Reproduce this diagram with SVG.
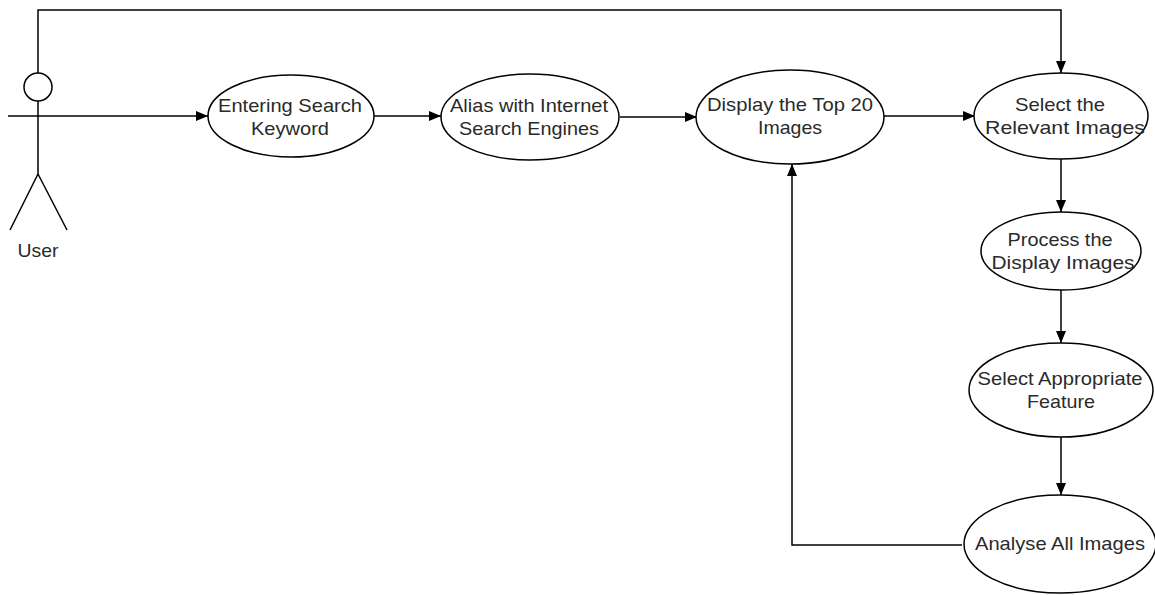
<svg xmlns="http://www.w3.org/2000/svg" width="1155" height="595" viewBox="0 0 1155 595">
<defs>
<marker id="ah" markerWidth="12" markerHeight="10" refX="12" refY="5" orient="auto" markerUnits="userSpaceOnUse">
<path d="M0,0 L12,5 L0,10 Z" fill="#000"/>
</marker>
<style>
.n ellipse{fill:#fff;stroke:#000;stroke-width:1.5}
text{font-family:"Liberation Sans",Arial,sans-serif;font-size:19px;fill:#2a2a2a;text-anchor:middle}
.c path{fill:none;stroke:#000;stroke-width:1.5}
</style>
</defs>
<rect width="1155" height="595" fill="#fff"/>
<g class="c" id="connectors">
<path d="M38,73 V10 H1061 V73" marker-end="url(#ah)"/>
<path d="M8,116 H208" marker-end="url(#ah)"/>
<path d="M374,116 H441" marker-end="url(#ah)"/>
<path d="M620,117 H697" marker-end="url(#ah)"/>
<path d="M884,116 H975" marker-end="url(#ah)"/>
<path d="M1061,159 V212" marker-end="url(#ah)"/>
<path d="M1061,290 V343" marker-end="url(#ah)"/>
<path d="M1061,437 V495" marker-end="url(#ah)"/>
<path d="M962,545 H792 V164" marker-end="url(#ah)"/>
</g>
<g id="user" fill="none" stroke="#000" stroke-width="1.5">
<circle cx="38" cy="87" r="14" fill="#fff"/>
<path d="M38,101 V174 M38,174 L10,230 M38,174 L67,230"/>
<text x="38" y="257" stroke="none" textLength="41" lengthAdjust="spacingAndGlyphs">User</text>
</g>
<g class="n" id="n1">
<ellipse cx="291" cy="116" rx="83" ry="41"/>
<text x="290" y="112" textLength="144" lengthAdjust="spacingAndGlyphs">Entering Search</text>
<text x="290" y="135" textLength="78" lengthAdjust="spacingAndGlyphs">Keyword</text>
</g>
<g class="n" id="n2">
<ellipse cx="530" cy="117" rx="89" ry="43"/>
<text x="529" y="112" textLength="158" lengthAdjust="spacingAndGlyphs">Alias with Internet</text>
<text x="529" y="135" textLength="140" lengthAdjust="spacingAndGlyphs">Search Engines</text>
</g>
<g class="n" id="n3">
<ellipse cx="790" cy="117" rx="94" ry="47"/>
<text x="790" y="111" textLength="166" lengthAdjust="spacingAndGlyphs">Display the Top 20</text>
<text x="790" y="134" textLength="64" lengthAdjust="spacingAndGlyphs">Images</text>
</g>
<g class="n" id="n4">
<ellipse cx="1061" cy="116" rx="87" ry="43"/>
<text x="1060" y="111" textLength="90" lengthAdjust="spacingAndGlyphs">Select the</text>
<text x="1065" y="134" textLength="160" lengthAdjust="spacingAndGlyphs">Relevant Images</text>
</g>
<g class="n" id="n5">
<ellipse cx="1061" cy="251" rx="80" ry="39"/>
<text x="1060" y="246" textLength="105" lengthAdjust="spacingAndGlyphs">Process the</text>
<text x="1063" y="269" textLength="143" lengthAdjust="spacingAndGlyphs">Display Images</text>
</g>
<g class="n" id="n6">
<ellipse cx="1061" cy="390" rx="92" ry="47"/>
<text x="1060" y="385" textLength="165" lengthAdjust="spacingAndGlyphs">Select Appropriate</text>
<text x="1061" y="408" textLength="68" lengthAdjust="spacingAndGlyphs">Feature</text>
</g>
<g class="n" id="n7">
<ellipse cx="1060" cy="544" rx="96" ry="49"/>
<text x="1060" y="550" textLength="170" lengthAdjust="spacingAndGlyphs">Analyse All Images</text>
</g>
</svg>
